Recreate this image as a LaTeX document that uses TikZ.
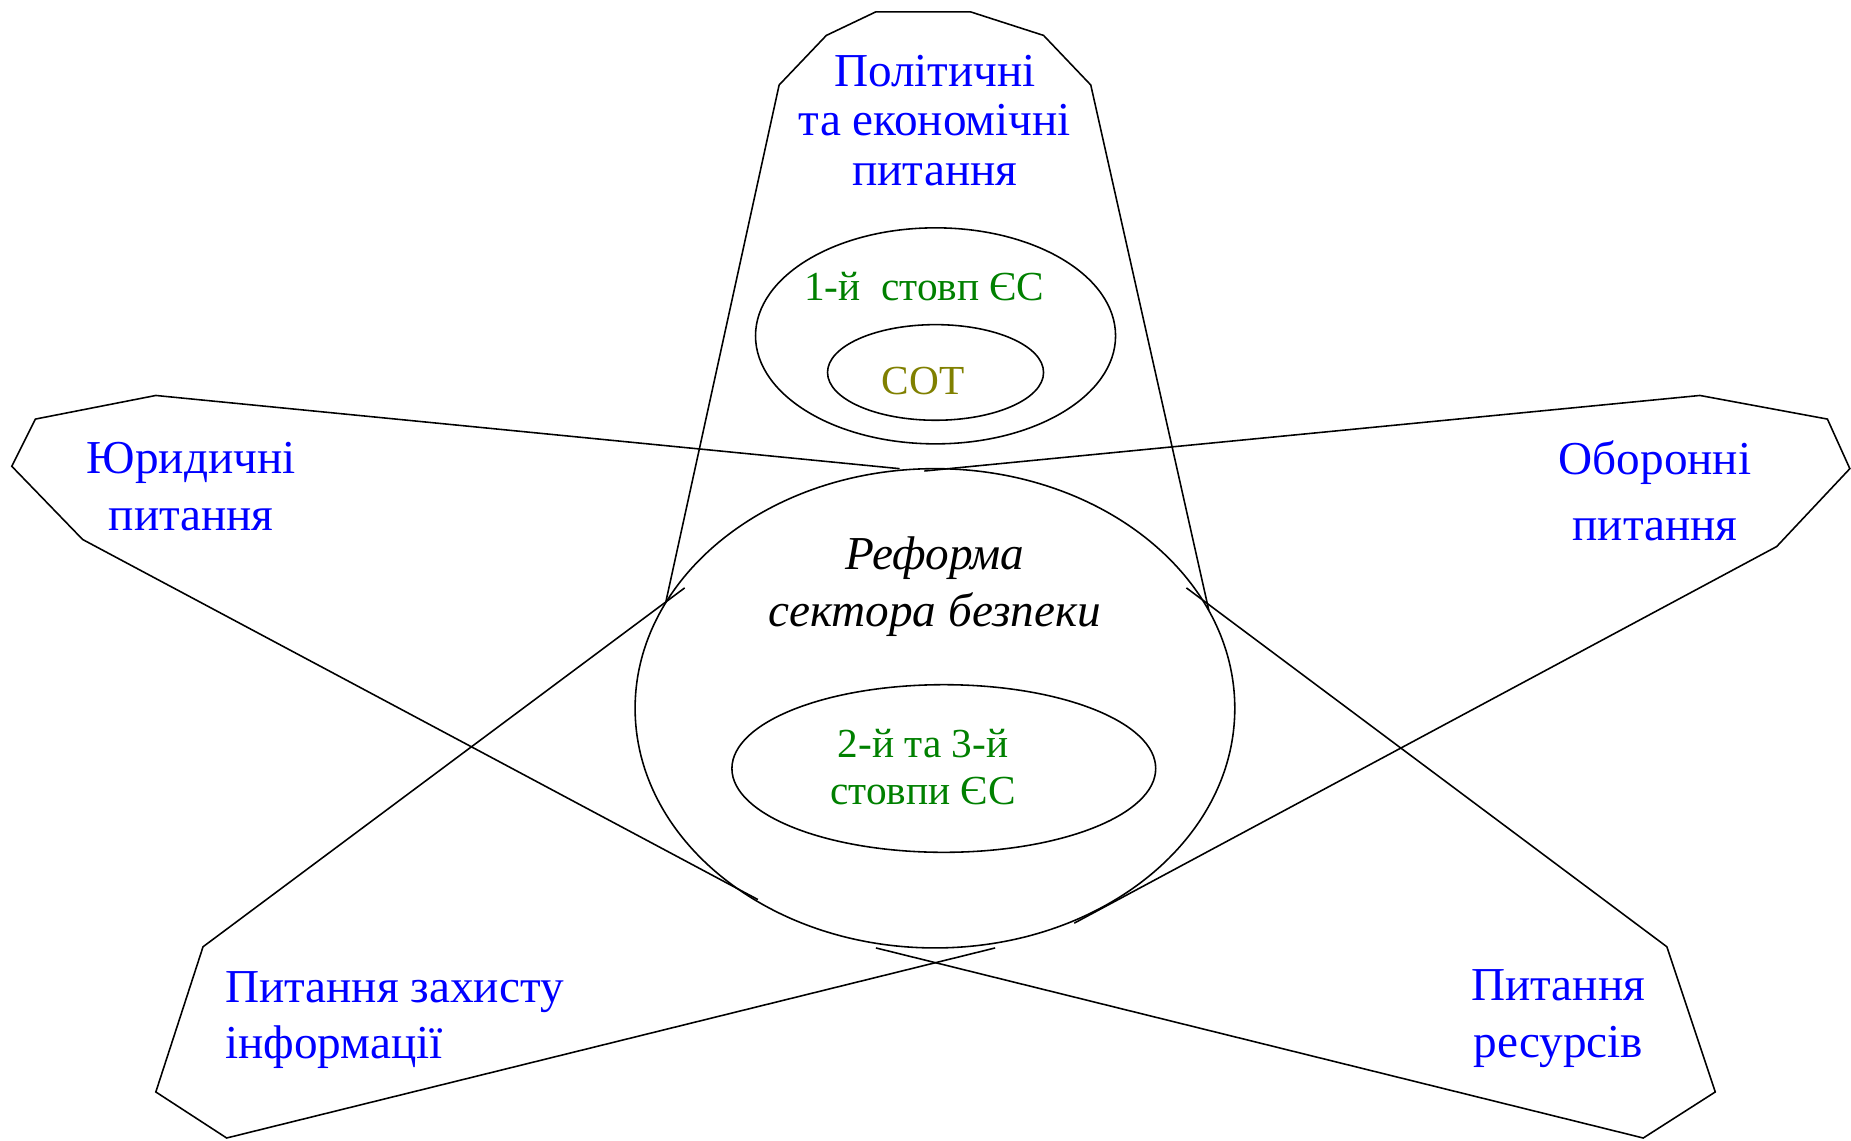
\documentclass[tikz,border=0pt]{standalone}
\usepackage{fontspec}
\setmainfont{Liberation Serif}
\usetikzlibrary{shapes.geometric}
\definecolor{tblue}{RGB}{0,0,255}
\definecolor{tgreen}{RGB}{0,128,0}
\definecolor{tolive}{RGB}{128,128,0}
\begin{document}
\begin{tikzpicture}[x=0.6pt,y=-0.6pt,line width=0.8pt,
  ell/.style={draw,ellipse,inner sep=0pt},
  petal/.style={draw,line join=miter},
  bluetxt/.style={text=tblue,align=center,inner sep=0pt},
  greentxt/.style={text=tgreen,align=center,inner sep=0pt},
  big/.style={font=\fontsize{24}{28.8}\selectfont},
  small/.style={font=\fontsize{21}{24}\selectfont}]
\useasboundingbox (0,0) rectangle (1568,966);
% ellipses
\node[ell,minimum width=304.8pt,minimum height=243.6pt] (reform) at (792,600) {};
\node[ell,minimum width=183pt,minimum height=109.8pt] (first) at (792.5,284.5) {};
\node[ell,minimum width=109.8pt,minimum height=48.6pt] (wto) at (792.5,315.5) {};
\node[ell,minimum width=215.4pt,minimum height=85.2pt] (pillars) at (799.5,651) {};
% petals
\draw[petal] (564,510) -- (660,72) -- (700,30) -- (742,10) -- (822,10) -- (884,30) -- (924,72) -- (1024,517);
\draw[petal] (762,397) -- (132,335) -- (30,355) -- (10,395) -- (70,457) -- (642,762);
\draw[petal] (783,399) -- (1440,335) -- (1548,355) -- (1567,397) -- (1505,463) -- (910,782);
\draw[petal] (580,498) -- (172,802) -- (132,925) -- (192,964) -- (843,803);
\draw[petal] (1005,498) -- (1412,802) -- (1453,925) -- (1392,964) -- (742,803);
% texts
\node[bluetxt,font=\fontsize{24}{25.2}\selectfont] (tpol) at (792,102) {Політичні\\та економічні\\питання};
\node[greentxt,small] (tfirst) at (783,243) {1-й\ \ стовп ЄС};
\node[text=tolive,inner sep=0pt,small] (twto) at (782,323) {СОТ};
\node[align=center,inner sep=0pt,font=\fontsize{24}{28.8}\selectfont\itshape] (treform) at (792,497) {Реформа\\сектора безпеки};
\node[greentxt,small] (tpill) at (782,650) {2-й та 3-й\\стовпи ЄС};
\node[bluetxt,big] (tjur) at (162,412) {Юридичні\\питання};
\node[bluetxt,font=\fontsize{24}{33.6}\selectfont] (tdef) at (1402,416) {Оборонні\\питання};
\node[bluetxt,big,align=left,anchor=west] (tinfo) at (190,864) {Питання захисту\\інформації};
\node[bluetxt,big] (tres) at (1320,863) {Питання\\ресурсів};
\end{tikzpicture}
\end{document}
